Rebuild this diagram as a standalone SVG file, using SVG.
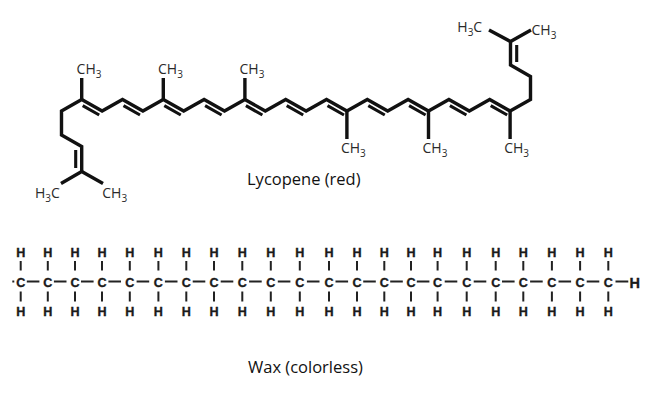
<svg xmlns="http://www.w3.org/2000/svg" width="657" height="405" viewBox="0 0 657 405">
<style>
.b{stroke:#111;stroke-width:3.4;fill:none;stroke-linejoin:miter;stroke-linecap:butt}
.d{stroke:#111;stroke-width:3.1;fill:none;stroke-linecap:butt}
.lab{font-family:"Open Sans","Liberation Sans",sans-serif;font-size:14px;fill:#2a2a2a}
.sub{font-size:10px}
.ttl{font-family:"Open Sans","Liberation Sans",sans-serif;font-size:16.5px;fill:#111}
.w{font-family:"Liberation Sans",Arial,sans-serif;font-weight:bold;font-size:12.6px;fill:#1a1a1a;stroke:#1a1a1a;stroke-width:0.35;text-anchor:middle}
.wl{stroke:#222;stroke-width:2;fill:none}
</style>
<rect width="657" height="405" fill="#fff"/>

<g id="lycopene">
  <g id="lycopene-bonds">
    <path class="b" d="M61,183.5 L81.7,171.5 L103,183.5"/>
    <path class="b" d="M81.7,171.5 L81.7,146.5 L61.5,135 L61.5,111 L81.7,99.5 L102.1,111 L122.5,99.5 L142.9,111 L163.3,99.5 L183.7,111 L204.1,99.5 L224.5,111 L244.9,99.5 L265.3,111 L285.7,99.5 L306.1,111 L326.5,99.5 L346.9,111 L367.3,99.5 L387.7,111 L408.1,99.5 L428.5,111 L448.9,99.5 L469.3,111 L489.7,99.5 L510.1,111 L530.5,99.5 L530.5,76.5 L510.5,65 L510.5,41.5"/>
    <path class="b" d="M489,30 L510.5,41.5 L531,30"/>
    <path class="b" d="M81.7,99.5 V78 M163.3,99.5 V78 M244.9,99.5 V78 M346.9,111 V139 M428.5,111 V139 M510.1,111 V139"/>
    <path class="d" d="M75.7,150 V168 M516.7,45 V62
      M82.7,105.7 L99.2,115 M123.5,105.7 L140,115 M164.3,105.7 L180.8,115 M205.1,105.7 L221.6,115
      M245.9,105.7 L262.4,115 M286.7,105.7 L303.2,115 M327.5,105.7 L344,115 M368.3,105.7 L384.8,115
      M409.1,105.7 L425.6,115 M449.9,105.7 L466.4,115 M490.7,105.7 L507.2,115"/>
  </g>
  <g id="lycopene-labels">
    <text class="lab" x="76.6" y="74">CH<tspan class="sub" dy="4">3</tspan></text>
    <text class="lab" x="158" y="74">CH<tspan class="sub" dy="4">3</tspan></text>
    <text class="lab" x="239.5" y="74">CH<tspan class="sub" dy="4">3</tspan></text>
    <text class="lab" x="340.9" y="153">CH<tspan class="sub" dy="4">3</tspan></text>
    <text class="lab" x="422.5" y="153">CH<tspan class="sub" dy="4">3</tspan></text>
    <text class="lab" x="504.2" y="153">CH<tspan class="sub" dy="4">3</tspan></text>
    <text class="lab" x="35" y="198">H<tspan class="sub" dy="4">3</tspan><tspan dy="-4">C</tspan></text>
    <text class="lab" x="102.3" y="198">CH<tspan class="sub" dy="4">3</tspan></text>
    <text class="lab" x="457.3" y="31.5">H<tspan class="sub" dy="4">3</tspan><tspan dy="-4">C</tspan></text>
    <text class="lab" x="531.5" y="35">CH<tspan class="sub" dy="4">3</tspan></text>
  </g>
  <text id="lycopene-title" class="ttl" x="247" y="185">Lycopene (red)</text>
</g>

<g id="wax">
  <g id="wax-bonds">
    <path class="wl" d="M12.3,281.5 H14.3
      M20.7,261 V270.5 M20.7,291.5 V301.5 M47.8,261 V270.5 M47.8,291.5 V301.5
      M75,261 V270.5 M75,291.5 V301.5 M102,261 V270.5 M102,291.5 V301.5
      M129.8,261 V270.5 M129.8,291.5 V301.5 M158.4,261 V270.5 M158.4,291.5 V301.5
      M186.3,261 V270.5 M186.3,291.5 V301.5 M214,261 V270.5 M214,291.5 V301.5
      M242.3,261 V270.5 M242.3,291.5 V301.5 M270.8,261 V270.5 M270.8,291.5 V301.5
      M299.8,261 V270.5 M299.8,291.5 V301.5 M329,261 V270.5 M329,291.5 V301.5
      M357,261 V270.5 M357,291.5 V301.5 M384.3,261 V270.5 M384.3,291.5 V301.5
      M411,261 V270.5 M411,291.5 V301.5 M437.6,261 V270.5 M437.6,291.5 V301.5
      M466.7,261 V270.5 M466.7,291.5 V301.5 M495.7,261 V270.5 M495.7,291.5 V301.5
      M523.3,261 V270.5 M523.3,291.5 V301.5 M551.9,261 V270.5 M551.9,291.5 V301.5
      M580.1,261 V270.5 M580.1,291.5 V301.5 M608.3,261 V270.5 M608.3,291.5 V301.5"/>
    <path class="wl" d="M26.8,281.5 H39.4 M53.9,281.5 H66.5 M81,281.5 H93.6 M108.4,281.5 H121
      M136.6,281.5 H149.2 M164.9,281.5 H177.5 M192.7,281.5 H205.3 M220.7,281.5 H233.3
      M249.1,281.5 H261.7 M277.8,281.5 H290.4 M306.9,281.5 H319.5 M335.5,281.5 H348.1
      M363.2,281.5 H375.8 M390.2,281.5 H402.8 M416.8,281.5 H429.4 M444.7,281.5 H457.3
      M473.7,281.5 H486.3 M502,281.5 H514.6 M530.1,281.5 H542.7 M558.5,281.5 H571.1
      M586.7,281.5 H599.3 M615.5,281.5 H628.3"/>
  </g>
  <g id="wax-top-H">
    <text class="w" x="20.7" y="257">H</text><text class="w" x="47.8" y="257">H</text><text class="w" x="75" y="257">H</text><text class="w" x="102" y="257">H</text>
    <text class="w" x="129.8" y="257">H</text><text class="w" x="158.4" y="257">H</text><text class="w" x="186.3" y="257">H</text><text class="w" x="214" y="257">H</text>
    <text class="w" x="242.3" y="257">H</text><text class="w" x="270.8" y="257">H</text><text class="w" x="299.8" y="257">H</text><text class="w" x="329" y="257">H</text>
    <text class="w" x="357" y="257">H</text><text class="w" x="384.3" y="257">H</text><text class="w" x="411" y="257">H</text><text class="w" x="437.6" y="257">H</text>
    <text class="w" x="466.7" y="257">H</text><text class="w" x="495.7" y="257">H</text><text class="w" x="523.3" y="257">H</text><text class="w" x="551.9" y="257">H</text>
    <text class="w" x="580.1" y="257">H</text><text class="w" x="608.3" y="257">H</text>
  </g>
  <g id="wax-carbons">
    <text class="w" x="20.7" y="287.2">C</text><text class="w" x="47.8" y="287.2">C</text><text class="w" x="75" y="287.2">C</text><text class="w" x="102" y="287.2">C</text>
    <text class="w" x="129.8" y="287.2">C</text><text class="w" x="158.4" y="287.2">C</text><text class="w" x="186.3" y="287.2">C</text><text class="w" x="214" y="287.2">C</text>
    <text class="w" x="242.3" y="287.2">C</text><text class="w" x="270.8" y="287.2">C</text><text class="w" x="299.8" y="287.2">C</text><text class="w" x="329" y="287.2">C</text>
    <text class="w" x="357" y="287.2">C</text><text class="w" x="384.3" y="287.2">C</text><text class="w" x="411" y="287.2">C</text><text class="w" x="437.6" y="287.2">C</text>
    <text class="w" x="466.7" y="287.2">C</text><text class="w" x="495.7" y="287.2">C</text><text class="w" x="523.3" y="287.2">C</text><text class="w" x="551.9" y="287.2">C</text>
    <text class="w" x="580.1" y="287.2">C</text><text class="w" x="608.3" y="287.2">C</text>
    <text class="w" x="634.7" y="287.6" style="font-size:14.5px">H</text>
  </g>
  <g id="wax-bottom-H">
    <text class="w" x="20.7" y="316.3">H</text><text class="w" x="47.8" y="316.3">H</text><text class="w" x="75" y="316.3">H</text><text class="w" x="102" y="316.3">H</text>
    <text class="w" x="129.8" y="316.3">H</text><text class="w" x="158.4" y="316.3">H</text><text class="w" x="186.3" y="316.3">H</text><text class="w" x="214" y="316.3">H</text>
    <text class="w" x="242.3" y="316.3">H</text><text class="w" x="270.8" y="316.3">H</text><text class="w" x="299.8" y="316.3">H</text><text class="w" x="329" y="316.3">H</text>
    <text class="w" x="357" y="316.3">H</text><text class="w" x="384.3" y="316.3">H</text><text class="w" x="411" y="316.3">H</text><text class="w" x="437.6" y="316.3">H</text>
    <text class="w" x="466.7" y="316.3">H</text><text class="w" x="495.7" y="316.3">H</text><text class="w" x="523.3" y="316.3">H</text><text class="w" x="551.9" y="316.3">H</text>
    <text class="w" x="580.1" y="316.3">H</text><text class="w" x="608.3" y="316.3">H</text>
  </g>
  <text id="wax-title" class="ttl" x="248" y="373.3">Wax (colorless)</text>
</g>
</svg>
